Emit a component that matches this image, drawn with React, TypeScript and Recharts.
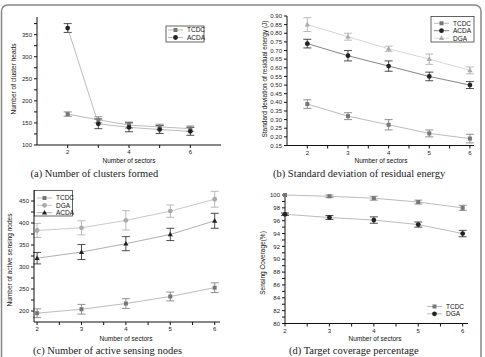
import React from "react";
import { LineChart, Line, XAxis, YAxis, ErrorBar } from "recharts";

const SANS = "'Liberation Sans', Arial, sans-serif";
const SERIF = "'Liberation Serif', 'Times New Roman', serif";

const sectors = [2, 3, 4, 5, 6];
const unitTicks = [2, 3, 4, 5, 6];
const halfTicks = [2, 2.5, 3, 3.5, 4, 4.5, 5, 5.5, 6];

// (a) number of cluster heads
const headsTCDC = [170, 157, 145, 141, 137];
const headsTCDCErr = [5, 7, 7, 6, 6];
const headsACDA = [365, 148, 140, 135, 131];
const headsACDAErr = [10, 11, 10, 9, 9];
const headsYTicks = [100, 125, 150, 175, 200, 225, 250, 275, 300, 325, 350, 375];

// (b) std deviation of residual energy
const stdTCDC = [0.39, 0.32, 0.27, 0.22, 0.19];
const stdTCDCErr = [0.025, 0.02, 0.03, 0.02, 0.025];
const stdACDA = [0.74, 0.67, 0.61, 0.55, 0.5];
const stdACDAErr = [0.025, 0.03, 0.03, 0.025, 0.02];
const stdDGA = [0.85, 0.78, 0.71, 0.65, 0.585];
const stdDGAErr = [0.04, 0.02, 0.015, 0.03, 0.02];
const stdYTicks = [0.15, 0.2, 0.25, 0.3, 0.35, 0.4, 0.45, 0.5, 0.55, 0.6, 0.65, 0.7, 0.75, 0.8, 0.85, 0.9];

// (c) active sensing nodes
const activeTCDC = [195, 204, 217, 233, 253];
const activeTCDCErr = [10, 11, 11, 10, 11];
const activeDGA = [383, 389, 406, 427, 454];
const activeDGAErr = [16, 16, 22, 14, 18];
const activeACDA = [320, 334, 353, 374, 405];
const activeACDAErr = [13, 17, 16, 14, 17];
const activeYTicks = [200, 225, 250, 275, 300, 325, 350, 375, 400, 425, 450];

// (d) coverage
const covTCDC = [100, 99.8, 99.5, 98.9, 98.0];
const covTCDCErr = [0, 0.2, 0.3, 0.3, 0.4];
const covDGA = [97.0, 96.5, 96.1, 95.4, 94.0];
const covDGAErr = [0.2, 0.3, 0.5, 0.4, 0.5];
const covYTicks = [80, 81, 82, 83, 84, 85, 86, 87, 88, 89, 90, 91, 92, 93, 94, 95, 96, 97, 98, 99, 100];

type Shape = "square" | "circle" | "triangle";
type Series = { key: string; name: string; values: number[]; errs: number[]; color: string; line: string; shape: Shape };

const build = (series: Series[]) =>
  sectors.map((x, i) => {
    const row: Record<string, number> = { x };
    series.forEach((s) => {
      row[s.key] = s.values[i];
      row[s.key + "Err"] = s.errs[i];
    });
    return row;
  });

function Sym({ cx, cy, shape, fill }: { cx: number; cy: number; shape: Shape; fill: string }) {
  if (shape === "square") return <rect x={cx - 2} y={cy - 2} width={4} height={4} fill={fill} />;
  if (shape === "triangle")
    return <polygon points={`${cx},${cy - 2.8} ${cx + 2.6},${cy + 1.9} ${cx - 2.6},${cy + 1.9}`} fill={fill} />;
  return <circle cx={cx} cy={cy} r={2.4} fill={fill} />;
}

const tcdc = (values: number[], errs: number[]): Series => ({ key: "tcdc", name: "TCDC", values, errs, color: "#777", line: "#aaa", shape: "square" });

const seriesA: Series[] = [
  tcdc(headsTCDC, headsTCDCErr),
  { key: "acda", name: "ACDA", values: headsACDA, errs: headsACDAErr, color: "#222", line: "#aaa", shape: "circle" },
];
const seriesB: Series[] = [
  tcdc(stdTCDC, stdTCDCErr),
  { key: "acda", name: "ACDA", values: stdACDA, errs: stdACDAErr, color: "#222", line: "#666", shape: "circle" },
  { key: "dga", name: "DGA", values: stdDGA, errs: stdDGAErr, color: "#aaa", line: "#ccc", shape: "triangle" },
];
const seriesC: Series[] = [
  tcdc(activeTCDC, activeTCDCErr),
  { key: "dga", name: "DGA", values: activeDGA, errs: activeDGAErr, color: "#aaa", line: "#bbb", shape: "circle" },
  { key: "acda", name: "ACDA", values: activeACDA, errs: activeACDAErr, color: "#222", line: "#999", shape: "triangle" },
];
const seriesD: Series[] = [
  tcdc(covTCDC, covTCDCErr),
  { key: "dga", name: "DGA", values: covDGA, errs: covDGAErr, color: "#222", line: "#aaa", shape: "circle" },
];

type PanelProps = {
  plot: [number, number, number, number];
  xDomain: [number, number];
  xTicks: number[];
  xFmt: (v: number) => string;
  yDomain: [number, number];
  yTicks: number[];
  yFmt: (v: number) => string;
  series: Series[];
};

function Panel({ plot, xDomain, xTicks, xFmt, yDomain, yTicks, yFmt, series }: PanelProps) {
  const [x0, y0, x1, y1] = plot;
  const yw = 30, xh = 20, mt = 8, mr = 8;
  const tickStyle = { fontSize: 6, fill: "#222", fontFamily: SANS };
  return (
    <div style={{ position: "absolute", left: x0 - yw, top: y0 - mt }}>
      <LineChart
        width={x1 - x0 + yw + mr}
        height={y1 - y0 + mt + xh}
        data={build(series)}
        margin={{ top: mt, right: mr, left: 0, bottom: 0 }}
      >
        <XAxis xAxisId="b" type="number" dataKey="x" domain={xDomain} ticks={xTicks} tickFormatter={xFmt}
          height={xh} tickSize={3} tickMargin={2} tick={tickStyle} stroke="#111" interval={0} />
        <XAxis xAxisId="t" orientation="top" mirror type="number" dataKey="x" domain={xDomain} ticks={xTicks}
          height={0} tickSize={3} tick={false} stroke="#111" interval={0} />
        <YAxis yAxisId="l" type="number" domain={yDomain} ticks={yTicks} tickFormatter={yFmt}
          width={yw} tickSize={3} tickMargin={2} tick={tickStyle} stroke="#111" interval={0} />
        <YAxis yAxisId="r" orientation="right" mirror type="number" domain={yDomain} ticks={yTicks}
          width={0} tickSize={3} tick={false} stroke="#111" interval={0} />
        {series.map((s) => (
          <Line
            key={s.key}
            xAxisId="b"
            yAxisId="l"
            dataKey={s.key}
            stroke={s.line}
            strokeWidth={0.8}
            isAnimationActive={false}
            dot={(p: any) => <Sym key={`${s.key}-${p.index}`} cx={p.cx} cy={p.cy} shape={s.shape} fill={s.color} />}
          >
            <ErrorBar dataKey={s.key + "Err"} width={4} stroke={s.color} strokeWidth={0.8} direction="y" />
          </Line>
        ))}
      </LineChart>
    </div>
  );
}

function LegendRows({ x, rows, series }: { x: number; rows: number[]; series: Series[] }) {
  return (
    <g>
      {series.map((s, i) => (
        <g key={s.key}>
          <line x1={x} x2={x + 15} y1={rows[i]} y2={rows[i]} stroke={s.line} strokeWidth={0.8} />
          <Sym cx={x + 7.5} cy={rows[i]} shape={s.shape} fill={s.color} />
          <text x={x + 19} y={rows[i] + 2.3} fontSize={6.5} fontFamily={SANS} fill="#111">{s.name}</text>
        </g>
      ))}
    </g>
  );
}

const xTitle = "Number of sectors";

export default function App() {
  const even = (v: number) => (v % 2 === 0 ? String(v) : "");
  const ints = (v: number) => (Number.isInteger(v) ? String(v) : "");
  return (
    <div style={{ position: "absolute", left: 0, top: 0, width: 485, height: 357, background: "#fff", overflow: "hidden" }}>
      <Panel plot={[37, 16.5, 221, 144.5]} xDomain={[1, 7]} xTicks={unitTicks} xFmt={even}
        yDomain={[100, 390]} yTicks={headsYTicks} yFmt={(v) => (v % 50 === 0 ? String(v) : "")} series={seriesA} />
      <Panel plot={[287, 16, 474, 145.5]} xDomain={[1.5, 6.1]} xTicks={halfTicks} xFmt={ints}
        yDomain={[0.15, 0.9]} yTicks={stdYTicks} yFmt={(v) => v.toFixed(2)} series={seriesB} />
      <Panel plot={[34, 190, 220, 322]} xDomain={[1.93, 6.12]} xTicks={halfTicks} xFmt={ints}
        yDomain={[175, 475]} yTicks={activeYTicks} yFmt={(v) => (v % 50 === 0 ? String(v) : "")} series={seriesC} />
      <Panel plot={[285, 194.5, 468, 323]} xDomain={[2, 6.12]} xTicks={halfTicks} xFmt={ints}
        yDomain={[80, 100]} yTicks={covYTicks} yFmt={(v) => (v % 2 === 0 ? String(v) : "")} series={seriesD} />

      <svg width={485} height={357} style={{ position: "absolute", left: 0, top: 0, pointerEvents: "none" }}>
        <rect x={1.5} y={5} width={479.5} height={420} rx={6} fill="none" stroke="#888" strokeWidth={1.5} />

        {/* legends */}
        <rect x={166} y={26} width={38} height={16} fill="#fff" stroke="#222" strokeWidth={0.7} />
        <LegendRows x={168} rows={[30, 37.5]} series={seriesA} />
        <rect x={431} y={16.5} width={43} height={25.5} fill="#fff" stroke="#222" strokeWidth={0.7} />
        <LegendRows x={434} rows={[23.3, 30.7, 38.2]} series={seriesB} />
        <rect x={34.5} y={190.5} width={38} height={25.5} fill="#fff" stroke="#222" strokeWidth={0.7} />
        <LegendRows x={37} rows={[198, 205.3, 212.7]} series={seriesC} />
        <LegendRows x={427} rows={[306.5, 313.8]} series={seriesD} />

        {/* axis titles */}
        <g fontFamily={SANS} fontSize={6.5} fill="#111" textAnchor="middle">
          <text x={129} y={163}>{xTitle}</text>
          <text x={381} y={163}>{xTitle}</text>
          <text x={126} y={341}>{xTitle}</text>
          <text x={375} y={341}>{xTitle}</text>
          <text transform="rotate(-90 16 79)" x={16} y={79}>Number of cluster heads</text>
          <text transform="rotate(-90 267 79)" x={267} y={79}>Standard deviation of residual energy (J)</text>
          <text transform="rotate(-90 12 260)" x={12} y={260}>Number of active sensing nodes</text>
          <text transform="rotate(-90 265 263)" x={265} y={263}>Sensing Coverage(%)</text>
        </g>

        {/* captions */}
        <g fontFamily={SERIF} fontSize={10.5} fill="#222">
          <text x={30.5} y={176.5}>(a) Number of clusters formed</text>
          <text x={273} y={176.5}>(b) Standard deviation of residual energy</text>
          <text x={33} y={353.5}>(c) Number of active sensing nodes</text>
          <text x={289} y={354}>(d) Target coverage percentage</text>
        </g>
      </svg>
    </div>
  );
}
